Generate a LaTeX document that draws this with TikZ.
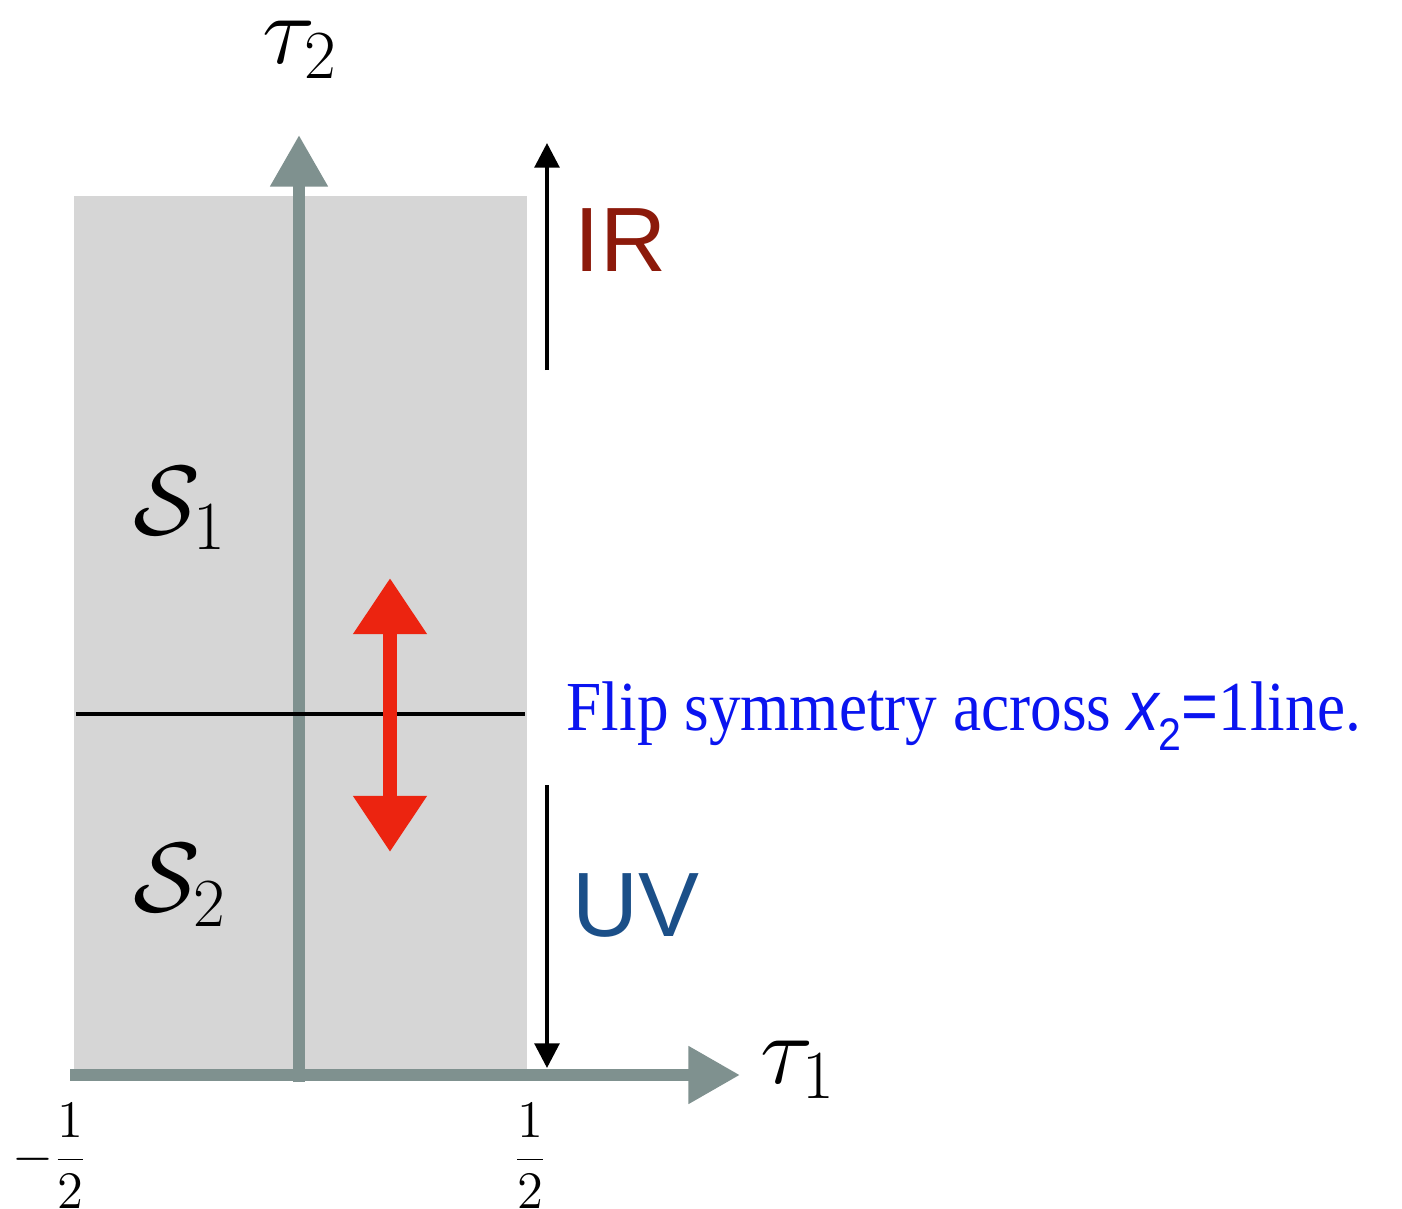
\documentclass[tikz,border=0pt]{standalone}
\usepackage{fix-cm}
\usepackage{fontspec}
\usetikzlibrary{arrows.meta}
\newfontfamily\labelsans{Liberation Sans}
\newfontfamily\labelserif{Liberation Serif}

\definecolor{axisgray}{HTML}{7F918F}
\definecolor{regiongray}{HTML}{D6D6D6}
\definecolor{irred}{HTML}{8C1A0B}
\definecolor{uvblue}{HTML}{1B4F88}
\definecolor{flipred}{HTML}{EC2410}
\definecolor{flipblue}{HTML}{0A14F0}

\begin{document}
\begin{tikzpicture}[
    axis/.style={draw=axisgray, line width=3.4pt,
        -{Triangle[width=15.6pt, length=14.7pt]}},
    scalearrow/.style={draw=black, line width=1.1pt,
        -{Triangle[width=7pt, length=7pt]}},
    fliparrow/.style={draw=flipred, line width=4.2pt,
        {Triangle[width=20pt, length=16pt]}-{Triangle[width=20pt, length=16pt]}},
    bigmath/.style={font=\fontsize{28}{32}\selectfont, inner sep=0pt},
    regime/.style={font=\labelsans\fontsize{26}{30}\selectfont,
        anchor=west, inner sep=0pt},
    ticklabel/.style={font=\fontsize{15}{18}\selectfont, inner sep=0pt},
    fliptext/.style={font=\labelserif\fontsize{20}{24}\selectfont,
        text=flipblue, anchor=west, inner sep=0pt},
]

% === Frame ===
\useasboundingbox (0,0) rectangle (14.02,-12.09);

% === Positions ===
\def\xL{0.74}     % left edge of strip
\def\xR{5.27}     % right edge of strip
\def\xA{2.99}     % tau_2 axis
\def\yA{-10.75}   % tau_1 axis
\def\yM{-7.14}    % x_2 = 1 line
\def\xS{5.47}     % IR / UV arrows

% === Fundamental strip ===
\fill[regiongray] (\xL,-1.96) rectangle (\xR,\yA);

% === Axes ===
\coordinate (t1start) at (0.70,\yA);
\coordinate (t1end)   at (7.40,\yA);
\coordinate (t2start) at (\xA,-10.82);
\coordinate (t2end)   at (\xA,-1.35);
\draw[axis] (t2start) -- (t2end);
\draw[axis] (t1start) -- (t1end);

\node[bigmath] (tautwo) at (3.00,-0.50) {$\tau_2$};
\node[bigmath] (tauone) at (7.98,-10.70) {$\tau_1$};

% === Symmetry line ===
\coordinate (midL) at (0.76,\yM);
\coordinate (midR) at (5.25,\yM);
\draw[black, line width=1.1pt] (midL) -- (midR);

% Flip arrow
\coordinate (flipdown) at (3.90,-8.52);
\coordinate (flipup)   at (3.90,-5.78);
\draw[fliparrow] (flipdown) -- (flipup);

\node[fliptext] (flip) at (5.66,-7.16)
    {\scalebox{0.9}[1]{Flip symmetry across {\labelsans\itshape x}\raisebox{-0.28em}{\labelsans\fontsize{13}{15}\selectfont 2}{\labelsans =}1line.}};

% === Regions ===
\node[bigmath] (sone) at (1.80,-5.08) {$\mathcal{S}_1$};
\node[bigmath] (stwo) at (1.80,-8.85) {$\mathcal{S}_2$};

% === IR / UV ===
\coordinate (irlow)  at (\xS,-3.70);
\coordinate (irhigh) at (\xS,-1.43);
\draw[scalearrow] (irlow) -- (irhigh);
\node[regime, text=irred] (ir) at (5.74,-2.40) {IR};

\coordinate (uvhigh) at (\xS,-7.85);
\coordinate (uvlow)  at (\xS,-10.68);
\draw[scalearrow] (uvhigh) -- (uvlow);
\node[regime, text=uvblue] (uv) at (5.72,-9.05) {UV};

% === Ticks ===
\node[ticklabel] (tickL) at (0.50,-11.56) {$\displaystyle -\frac{1}{2}$};
\node[ticklabel] (tickR) at (5.30,-11.56) {$\displaystyle \frac{1}{2}$};

\end{tikzpicture}
\end{document}
